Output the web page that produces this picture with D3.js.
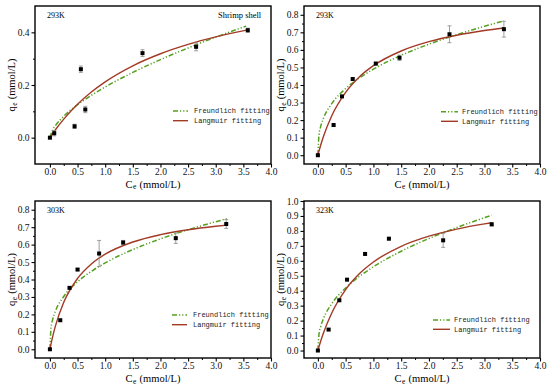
<!DOCTYPE html>
<html><head><meta charset="utf-8">
<script src="https://cdn.jsdelivr.net/npm/d3@7"></script>
<style>body{margin:0;background:#fff}svg{display:block}</style>
</head><body>
<script>
// ---------- data ----------
const xTicks = [0.0,0.5,1.0,1.5,2.0,2.5,3.0,3.5,4.0];
const tempLabels = ["293K","293K","303K","323K"];
const legendLabels = ["Freundlich fitting","Langmuir fitting"];

// Panel 1 (293K, shrimp shell)
const p1Ce = [0, 0.078, 0.446, 0.64, 0.56, 1.675, 2.645, 3.58];
const p1Qe = [0, 0.017, 0.043, 0.107, 0.26, 0.321, 0.345, 0.408];
const p1Err = [0.004, 0.01, 0.008, 0.012, 0.012, 0.013, 0.015, 0.008];
const p1CurveC = [0, 0.05, 0.1, 0.25, 0.5, 0.75, 1.0, 1.5, 2.0, 2.5, 3.0, 3.55];
const p1Freund = [0, 0.0298, 0.0459, 0.0812, 0.125, 0.1609, 0.1925, 0.2478, 0.2964, 0.3407, 0.3817, 0.4236];
const p1LangC = [0, 0.1, 0.25, 0.5, 0.75, 1.0, 1.5, 2.0, 2.5, 3.0, 3.6];
const p1Lang = [0, 0.0302, 0.0706, 0.127, 0.1734, 0.212, 0.2729, 0.3186, 0.3541, 0.3826, 0.4101];
const p1YTicks = [0.0, 0.2, 0.4];

// Panel 2 (293K)
const p2Ce = [0, 0.283, 0.434, 0.627, 1.043, 1.47, 2.37, 3.35];
const p2Qe = [0, 0.172, 0.335, 0.434, 0.522, 0.555, 0.689, 0.718];
const p2Err = [0.005, 0.006, 0.006, 0.006, 0.008, 0.015, 0.048, 0.045];
const p2CurveC = [0, 0.02, 0.05, 0.1, 0.25, 0.5, 0.75, 1.0, 1.5, 2.0, 2.5, 3.0, 3.35];
const p2Freund = [0, 0.116, 0.1627, 0.21, 0.294, 0.38, 0.4408, 0.49, 0.569, 0.6324, 0.6865, 0.7342, 0.765];
const p2LangC = [0, 0.05, 0.1, 0.25, 0.5, 0.75, 1.0, 1.5, 2.0, 2.5, 3.0, 3.35];
const p2Lang = [0, 0.0565, 0.1061, 0.2248, 0.358, 0.447, 0.51, 0.5937, 0.6467, 0.6833, 0.7102, 0.725];
const p2YTicks = [0.0,0.1,0.2,0.3,0.4,0.5,0.6,0.7,0.8];

// Panel 3 (303K)
const p3Ce = [0, 0.187, 0.355, 0.5, 0.89, 1.325, 2.277, 3.19];
const p3Qe = [0, 0.1665, 0.352, 0.457, 0.549, 0.612, 0.637, 0.718];
const p3Err = [0.004, 0.006, 0.006, 0.006, 0.075, 0.012, 0.03, 0.025];
const p3CurveC = [0, 0.02, 0.05, 0.1, 0.25, 0.5, 0.75, 1.0, 1.5, 2.0, 2.5, 3.0, 3.2];
const p3Freund = [0, 0.1234, 0.1709, 0.2186, 0.3026, 0.387, 0.447, 0.495, 0.5717, 0.6331, 0.6853, 0.7311, 0.748];
const p3LangC = [0, 0.05, 0.1, 0.25, 0.5, 0.75, 1.0, 1.5, 2.0, 2.5, 3.0, 3.2];
const p3Lang = [0, 0.0728, 0.1339, 0.2693, 0.4063, 0.4893, 0.545, 0.6149, 0.657, 0.6853, 0.7054, 0.712];
const p3YTicks = [0.0,0.1,0.2,0.3,0.4,0.5,0.6,0.7,0.8];

// Panel 4 (323K)
const p4Ce = [0, 0.193, 0.386, 0.525, 0.85, 1.279, 2.256, 3.13];
const p4Qe = [0, 0.14, 0.336, 0.474, 0.646, 0.748, 0.737, 0.844];
const p4Err = [0.004, 0.006, 0.006, 0.006, 0.008, 0.008, 0.047, 0.01];
const p4CurveC = [0, 0.02, 0.05, 0.1, 0.25, 0.5, 0.75, 1.0, 1.5, 2.0, 2.5, 3.0, 3.13];
const p4Freund = [0, 0.1083, 0.159, 0.2129, 0.3129, 0.4186, 0.4963, 0.56, 0.664, 0.7492, 0.8228, 0.8883, 0.905];
const p4LangC = [0, 0.05, 0.1, 0.25, 0.5, 0.75, 1.0, 1.5, 2.0, 2.5, 3.0, 3.13];
const p4Lang = [0, 0.0617, 0.1168, 0.2512, 0.4077, 0.5145, 0.592, 0.697, 0.7649, 0.8123, 0.8474, 0.855];
const p4YTicks = [0.0,0.1,0.2,0.3,0.4,0.5,0.6,0.7,0.8,0.9,1.0];

// ---------- layout ----------
const W = 550, H = 389;
const panels = [
  {ce:p1Ce, qe:p1Qe, err:p1Err, fC:p1CurveC, f:p1Freund, lC:p1LangC, l:p1Lang, yt:p1YTicks, ystep:0.1,
   frame:[35,271,6,164], xd:[-0.27,4], yd:[-0.1,0.5], temp:tempLabels[0], tx:47, ty:15, extra:"Shrimp shell", ex:218,
   leg:[173,188,194,111,120.7], ytx:11.5, xty:184},
  {ce:p2Ce, qe:p2Qe, err:p2Err, fC:p2CurveC, f:p2Freund, lC:p2LangC, l:p2Lang, yt:p2YTicks, ystep:0.05,
   frame:[304,540,6,164], xd:[-0.25,4], yd:[-0.05,0.85], temp:tempLabels[1], tx:316, ty:15,
   leg:[441,458,462,111.7,121.3], ytx:280.5, xty:184},
  {ce:p3Ce, qe:p3Qe, err:p3Err, fC:p3CurveC, f:p3Freund, lC:p3LangC, l:p3Lang, yt:p3YTicks, ystep:0.05,
   frame:[35,271,201,358], xd:[-0.27,4], yd:[-0.05,0.85], temp:tempLabels[2], tx:47, ty:210,
   leg:[172,187,193,315,324.7], ytx:11.5, xty:378.5},
  {ce:p4Ce, qe:p4Qe, err:p4Err, fC:p4CurveC, f:p4Freund, lC:p4LangC, l:p4Lang, yt:p4YTicks, ystep:0.05,
   frame:[304,540,201,358], xd:[-0.25,4], yd:[-0.05,1.0], temp:tempLabels[3], tx:316, ty:210,
   leg:[433,450,454,320,329.3], ytx:280.5, xty:378.5}
];
const GREEN = "#55a020", BROWN = "#a23a26";
const DASH = "5,2,1.2,2,1.2,2";
const SERIF = "'Liberation Serif','Times New Roman',serif";
const MONO = "'Liberation Mono','Courier New',monospace";

const svg = d3.select("body").append("svg").attr("width",W).attr("height",H)
  .style("font-family",SERIF);

// Title with subscript from separate, non-overlapping text pieces, centered on the group origin
function subTitle(g, main, sub, rest) {
  const parts = [
    {t:main, size:10.5, dy:0},
    {t:sub, size:7.5, dy:2.5},
    {t:rest, size:10.5, dy:0}
  ];
  let cx = 0;
  const nodes = parts.map(pt => {
    const n = g.append("text").attr("x",cx).attr("y",pt.dy).attr("dy","0.35em")
      .style("font-size",pt.size+"px").text(pt.t);
    const w = n.node().getComputedTextLength();
    cx += w + 0.5;
    return n;
  });
  const total = cx - 0.5;
  nodes.forEach(n => n.attr("x", +n.attr("x") - total/2));
}

panels.forEach(p => {
  const [L,R,T,B] = p.frame;
  const x = d3.scaleLinear().domain(p.xd).range([L,R]);
  const y = d3.scaleLinear().domain(p.yd).range([B,T]);
  const g = svg.append("g");

  const xMinor = d3.range(0, 4.001, 0.25).filter(v => Math.abs(v*2-Math.round(v*2))>1e-6);
  const xa = g.append("g").attr("transform",`translate(0,${B})`)
    .call(d3.axisBottom(x).tickValues(xTicks).tickFormat(d3.format(".1f")).tickSize(3.5).tickPadding(1));
  xa.select(".domain").remove();
  xa.selectAll("text").style("font-size","9.5px").style("font-family",SERIF).attr("fill","#111");
  xa.selectAll("line").attr("stroke","#000").attr("stroke-width",1.1);
  g.append("g").attr("transform",`translate(0,${B})`)
    .call(d3.axisBottom(x).tickValues(xMinor).tickFormat("").tickSize(2))
    .call(s=>{s.select(".domain").remove(); s.selectAll("line").attr("stroke","#000");});

  const ymax = p.yt[p.yt.length-1];
  const yMinor = d3.range(0, ymax+1e-6, p.ystep).filter(v => !p.yt.some(t=>Math.abs(t-v)<1e-6));
  const ya = g.append("g").attr("transform",`translate(${L},0)`)
    .call(d3.axisLeft(y).tickValues(p.yt).tickFormat(d3.format(".1f")).tickSize(3.5).tickPadding(2));
  ya.select(".domain").remove();
  ya.selectAll("text").style("font-size","9.5px").style("font-family",SERIF).attr("fill","#111");
  ya.selectAll("line").attr("stroke","#000").attr("stroke-width",1.1);
  g.append("g").attr("transform",`translate(${L},0)`)
    .call(d3.axisLeft(y).tickValues(yMinor).tickFormat("").tickSize(2))
    .call(s=>{s.select(".domain").remove(); s.selectAll("line").attr("stroke","#000");});

  g.append("rect").attr("x",L).attr("y",T).attr("width",R-L).attr("height",B-T)
    .attr("fill","none").attr("stroke","#000").attr("stroke-width",1.4);

  const line = d3.line().curve(d3.curveMonotoneX);
  g.append("path").attr("d", line(p.fC.map((c,i)=>[x(c), y(p.f[i])])))
    .attr("fill","none").attr("stroke",GREEN).attr("stroke-width",1.5).attr("stroke-dasharray",DASH);
  g.append("path").attr("d", line(p.lC.map((c,i)=>[x(c), y(p.l[i])])))
    .attr("fill","none").attr("stroke",BROWN).attr("stroke-width",1.4);

  p.ce.forEach((c,i)=>{
    const cx = x(c), y1 = y(p.qe[i]+p.err[i]), y2 = y(p.qe[i]-p.err[i]);
    g.append("line").attr("x1",cx).attr("x2",cx).attr("y1",y1).attr("y2",y2).attr("stroke","#888").attr("stroke-width",0.8);
    [y1,y2].forEach(yy=>g.append("line").attr("x1",cx-2).attr("x2",cx+2).attr("y1",yy).attr("y2",yy).attr("stroke","#888").attr("stroke-width",0.8));
  });
  g.selectAll("rect.pt").data(p.ce).enter().append("rect").attr("class","pt")
    .attr("x",(c)=>x(c)-2).attr("y",(c,i)=>y(p.qe[i])-2).attr("width",4).attr("height",4).attr("fill","#000");

  g.append("text").attr("x",p.tx).attr("y",p.ty).attr("dy","0.35em").style("font-size","8px").text(p.temp);
  if (p.extra) g.append("text").attr("x",p.ex).attr("y",p.ty).attr("dy","0.35em").style("font-size","8.5px").text(p.extra);

  const [lx1,lx2,tx,ly1,ly2] = p.leg;
  g.append("line").attr("x1",lx1).attr("x2",lx2).attr("y1",ly1).attr("y2",ly1)
    .attr("stroke",GREEN).attr("stroke-width",1.5).attr("stroke-dasharray",DASH);
  g.append("line").attr("x1",lx1).attr("x2",lx2).attr("y1",ly2).attr("y2",ly2)
    .attr("stroke",BROWN).attr("stroke-width",1.4);
  [ly1,ly2].forEach((yy,i)=>g.append("text").attr("x",tx).attr("y",yy).attr("dy","0.35em")
    .style("font-family",MONO).style("font-size","7px").attr("fill","#222").text(legendLabels[i]));

  subTitle(g.append("g").attr("transform",`translate(${p.ytx},${(T+B)/2}) rotate(-90)`), "q", "e", "\u00a0(mmol/L)");
  subTitle(g.append("g").attr("transform",`translate(${(L+R)/2},${p.xty})`), "C", "e", "\u00a0(mmol/L)");
});
</script>
</body></html>
